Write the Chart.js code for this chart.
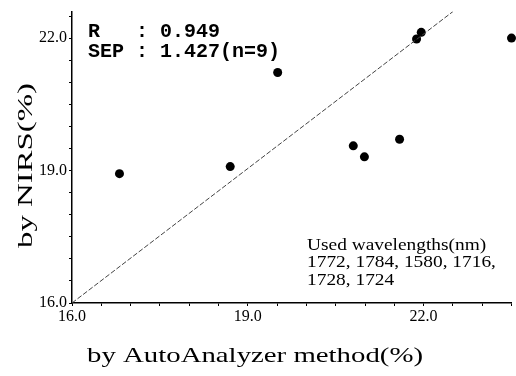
<!DOCTYPE html>
<html>
<head>
<meta charset="utf-8">
<script src="https://cdn.jsdelivr.net/npm/chart.js@4"></script>
<style>
html,body{margin:0;padding:0;background:#fff;}
#wrap{width:516px;height:376px;}
</style>
</head>
<body>
<div id="wrap"><canvas id="c" width="516" height="376"></canvas></div>
<script>
// ---- data ----
const autoAnalyzer = [16.81, 18.70, 19.51, 21.88, 21.96, 23.50, 20.80, 20.99, 21.59];
const nirs         = [18.93, 19.09, 21.22, 21.98, 22.13, 22.00, 19.56, 19.31, 19.71];
const refLineX = [16.0, 22.5];
const refLineY = [16.0, 22.6];
const xTickValues = [16.0,16.5,17.0,17.5,18.0,18.5,19.0,19.5,20.0,20.5,21.0,21.5,22.0,22.5,23.0,23.5];
const yTickValues = [16.0,16.5,17.0,17.5,18.0,18.5,19.0,19.5,20.0,20.5,21.0,21.5,22.0,22.5];
const majorTickValues = [16.0, 19.0, 22.0];
const majorTickLabels = ['16.0', '19.0', '22.0'];
const xTitle = 'by AutoAnalyzer method(%)';
const yTitle = 'by NIRS(%)';
const statLines = ['R   : 0.949', 'SEP : 1.427(n=9)'];
const noteLines = ['Used wavelengths(nm)', '1772, 1784, 1580, 1716,', '1728, 1724'];

function tickLabel(v){
  const i = majorTickValues.findIndex(m => Math.abs(m - v) < 1e-6);
  return i >= 0 ? majorTickLabels[i] : '';
}

function stretchText(ctx, text, x, y, targetWidth, align){
  const w = ctx.measureText(text).width;
  const sx = targetWidth ? targetWidth / w : 1;
  ctx.save();
  ctx.translate(x, y);
  ctx.scale(sx, 1);
  ctx.textAlign = align || 'left';
  ctx.fillText(text, 0, 0);
  ctx.restore();
}

const textPlugin = {
  id: 'texts',
  afterDraw(chart){
    const ctx = chart.ctx;
    ctx.save();
    ctx.fillStyle = '#000';
    ctx.textBaseline = 'alphabetic';
    // x title
    ctx.font = '21px "Liberation Serif"';
    stretchText(ctx, xTitle, 255, 362, 336, 'center');
    // y title
    ctx.font = '22px "Liberation Serif"';
    ctx.save();
    ctx.translate(32, 165.5);
    ctx.rotate(-Math.PI/2);
    stretchText(ctx, yTitle, 0, 0, 165, 'center');
    ctx.restore();
    // stats
    ctx.font = 'bold 20px "Liberation Mono"';
    ctx.textAlign = 'left';
    ctx.fillText(statLines[0], 88, 37);
    ctx.fillText(statLines[1], 88, 57);
    // note
    ctx.font = '17px "Liberation Serif"';
    const base = [250, 267, 285];
    noteLines.forEach((t, i) => {
      const w = ctx.measureText(t).width;
      stretchText(ctx, t, 307, base[i], w * 1.14, 'left');
    });
    ctx.restore();
  }
};

const scatterData = autoAnalyzer.map((x, i) => ({x: x, y: nirs[i]}));
const lineData = refLineX.map((x, i) => ({x: x, y: refLineY[i]}));

new Chart(document.getElementById('c'), {
  type: 'scatter',
  data: {
    datasets: [
      {
        data: lineData,
        showLine: true,
        borderColor: '#444',
        borderWidth: 1,
        borderDash: [5, 2],
        pointRadius: 0,
        fill: false
      },
      {
        data: scatterData,
        backgroundColor: '#000',
        borderColor: '#000',
        pointRadius: 4.5,
        pointBorderWidth: 0,
        clip: false
      }
    ]
  },
  options: {
    responsive: false,
    animation: false,
    events: [],
    layout: { padding: { top: 6, right: 3, left: 0, bottom: 0 } },
    plugins: { legend: { display: false }, tooltip: { enabled: false }, title: { display: false } },
    scales: {
      x: {
        type: 'linear',
        min: 16, max: 23.5,
        afterBuildTicks(scale){ scale.ticks = xTickValues.map(v => ({value: v})); },
        afterFit(scale){ scale.height = 73; },
        grid: { drawOnChartArea: false, drawTicks: true, tickLength: 3, color: '#000', lineWidth: 1 },
        border: { display: true, color: '#000', width: 1.5 },
        ticks: {
          autoSkip: false, maxRotation: 0, padding: 1, color: '#000',
          font: { family: 'Liberation Serif', size: 16 },
          callback: (v) => tickLabel(v)
        }
      },
      y: {
        type: 'linear',
        min: 16, max: 22.6,
        afterBuildTicks(scale){ scale.ticks = yTickValues.map(v => ({value: v})); },
        afterFit(scale){ scale.width = 72; },
        grid: { drawOnChartArea: false, drawTicks: true, tickLength: 3, color: '#000', lineWidth: 1 },
        border: { display: true, color: '#000', width: 1.5 },
        ticks: {
          autoSkip: false, padding: 2, color: '#000',
          font: { family: 'Liberation Serif', size: 16 },
          callback: (v) => tickLabel(v)
        }
      }
    }
  },
  plugins: [textPlugin]
});
</script>
</body>
</html>
